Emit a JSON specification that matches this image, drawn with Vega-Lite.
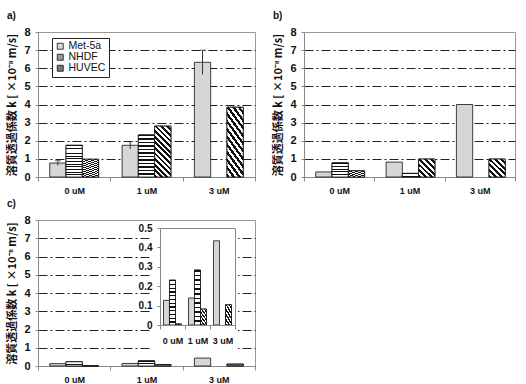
{
  "$schema": "https://vega.github.io/schema/vega-lite/v6.json",
  "padding": {"left": 6, "top": 10, "right": 0, "bottom": 0},
  "background": "white",
  "config": {
    "font": "Liberation Sans",
    "view": {"stroke": "#999", "strokeWidth": 1},
    "axis": {"domainColor": "#888", "tickColor": "#888", "labelColor": "#111", "titleColor": "#111", "gridColor": "#222", "gridDash": [9, 3, 2, 3], "gridWidth": 1},
    "axisX": {"labelFontSize": 9, "labelFontWeight": "bold", "labelAngle": 0, "tickBand": "extent", "tickSize": 4, "labelPadding": 5, "grid": false},
    "axisY": {"labelFontSize": 11, "labelFontWeight": "bold", "tickSize": 3, "labelPadding": 5, "titleFont": "Noto Sans CJK JP", "titleFontSize": 11, "titleFontWeight": "bold", "titlePadding": 6},
    "title": {"fontSize": 10, "fontWeight": "bold", "anchor": "start", "frame": "bounds", "offset": 5, "color": "#111"},
    "legend": {"strokeColor": "#222", "fillColor": "white", "padding": 3, "symbolType": "square", "symbolSize": 36, "symbolStrokeColor": "#111", "symbolStrokeWidth": 0.8, "symbolOpacity": 1, "labelFontSize": 10.5, "labelFont": "Liberation Sans", "labelColor": "#111", "rowPadding": 0, "labelOffset": 3}
  },
  "datasets": {
    "a": [
      {"conc": "0 uM", "cell": "Met-5a", "k": 0.77, "lo": 0.64, "hi": 0.9},
      {"conc": "0 uM", "cell": "NHDF", "k": 1.75},
      {"conc": "0 uM", "cell": "HUVEC", "k": 0.98},
      {"conc": "1 uM", "cell": "Met-5a", "k": 1.75, "lo": 1.55, "hi": 1.95},
      {"conc": "1 uM", "cell": "NHDF", "k": 2.32},
      {"conc": "1 uM", "cell": "HUVEC", "k": 2.81},
      {"conc": "3 uM", "cell": "Met-5a", "k": 6.33, "lo": 5.66, "hi": 7.0},
      {"conc": "3 uM", "cell": "HUVEC", "k": 3.85}
    ],
    "b": [
      {"conc": "0 uM", "cell": "Met-5a", "k": 0.28},
      {"conc": "0 uM", "cell": "NHDF", "k": 0.78},
      {"conc": "0 uM", "cell": "HUVEC", "k": 0.34},
      {"conc": "1 uM", "cell": "Met-5a", "k": 0.82},
      {"conc": "1 uM", "cell": "NHDF", "k": 0.2},
      {"conc": "1 uM", "cell": "HUVEC", "k": 0.99},
      {"conc": "3 uM", "cell": "Met-5a", "k": 4.0},
      {"conc": "3 uM", "cell": "HUVEC", "k": 0.99}
    ],
    "c": [
      {"conc": "0 uM", "cell": "Met-5a", "k": 0.127},
      {"conc": "0 uM", "cell": "NHDF", "k": 0.231},
      {"conc": "0 uM", "cell": "HUVEC", "k": 0.005},
      {"conc": "1 uM", "cell": "Met-5a", "k": 0.139},
      {"conc": "1 uM", "cell": "NHDF", "k": 0.283},
      {"conc": "1 uM", "cell": "HUVEC", "k": 0.082},
      {"conc": "3 uM", "cell": "Met-5a", "k": 0.434},
      {"conc": "3 uM", "cell": "HUVEC", "k": 0.104}
    ]
  },
  "vconcat": [
    {
      "hconcat": [
        {
          "title": "a)",
          "width": 217,
          "height": 145,
          "data": {"name": "a"},
          "encoding": {
            "x": {"field": "conc", "type": "nominal", "scale": {"domain": ["0 uM", "1 uM", "3 uM"], "paddingInner": 0, "paddingOuter": 0}, "axis": {"title": null}},
            "xOffset": {"field": "cell", "type": "nominal", "scale": {"domain": ["Met-5a", "NHDF", "HUVEC"], "paddingInner": 0, "paddingOuter": 0.72}},
            "y": {"field": "k", "type": "quantitative", "title": "溶質透過係数 k [ ×10⁻⁸ m/s]", "scale": {"domain": [0, 8], "nice": false}, "axis": {"values": [0, 1, 2, 3, 4, 5, 6, 7, 8], "gridOpacity": {"condition": {"test": "datum.value == 0 || datum.value == 8", "value": 0}, "value": 1}}}
          },
          "layer": [
            {
              "mark": {"type": "bar", "stroke": "#111", "strokeWidth": 0.8},
              "encoding": {
                "fill": {"field": "cell", "type": "nominal", "scale": {"domain": ["Met-5a", "NHDF", "HUVEC"], "range": ["#d6d6d6", "#9a9a9a", "#777777"]}, "legend": {"orient": "none", "legendX": 14, "legendY": 6, "title": null}}
              }
            },
            {
              "transform": [{"filter": "datum.cell === 'NHDF'"}],
              "mark": {"type": "bar", "stroke": "#111", "strokeWidth": 0.8, "fill": {"gradient": "linear", "x1": 0, "y1": 0, "x2": 0, "y2": 1, "stops": [
                {"offset": 0, "color": "#111"}, {"offset": 0.029, "color": "#111"}, {"offset": 0.029, "color": "#fff"}, {"offset": 0.0833, "color": "#fff"},
                {"offset": 0.0833, "color": "#111"}, {"offset": 0.1125, "color": "#111"}, {"offset": 0.1125, "color": "#fff"}, {"offset": 0.1667, "color": "#fff"},
                {"offset": 0.1667, "color": "#111"}, {"offset": 0.1958, "color": "#111"}, {"offset": 0.1958, "color": "#fff"}, {"offset": 0.25, "color": "#fff"},
                {"offset": 0.25, "color": "#111"}, {"offset": 0.2792, "color": "#111"}, {"offset": 0.2792, "color": "#fff"}, {"offset": 0.3333, "color": "#fff"},
                {"offset": 0.3333, "color": "#111"}, {"offset": 0.3625, "color": "#111"}, {"offset": 0.3625, "color": "#fff"}, {"offset": 0.4167, "color": "#fff"},
                {"offset": 0.4167, "color": "#111"}, {"offset": 0.4458, "color": "#111"}, {"offset": 0.4458, "color": "#fff"}, {"offset": 0.5, "color": "#fff"},
                {"offset": 0.5, "color": "#111"}, {"offset": 0.5292, "color": "#111"}, {"offset": 0.5292, "color": "#fff"}, {"offset": 0.5833, "color": "#fff"},
                {"offset": 0.5833, "color": "#111"}, {"offset": 0.6125, "color": "#111"}, {"offset": 0.6125, "color": "#fff"}, {"offset": 0.6667, "color": "#fff"},
                {"offset": 0.6667, "color": "#111"}, {"offset": 0.6958, "color": "#111"}, {"offset": 0.6958, "color": "#fff"}, {"offset": 0.75, "color": "#fff"},
                {"offset": 0.75, "color": "#111"}, {"offset": 0.7792, "color": "#111"}, {"offset": 0.7792, "color": "#fff"}, {"offset": 0.8333, "color": "#fff"},
                {"offset": 0.8333, "color": "#111"}, {"offset": 0.8625, "color": "#111"}, {"offset": 0.8625, "color": "#fff"}, {"offset": 0.9167, "color": "#fff"},
                {"offset": 0.9167, "color": "#111"}, {"offset": 0.9458, "color": "#111"}, {"offset": 0.9458, "color": "#fff"}, {"offset": 1, "color": "#fff"}
              ]}}
            },
            {
              "transform": [{"filter": "datum.cell === 'HUVEC'"}],
              "mark": {"type": "bar", "stroke": "#111", "strokeWidth": 0.8, "fill": {"gradient": "linear", "x1": 0, "y1": 1, "x2": 0.383, "y2": -0.197, "stops": [
                {"offset": 0, "color": "#111"}, {"offset": 0.0417, "color": "#111"}, {"offset": 0.0417, "color": "#fff"}, {"offset": 0.0833, "color": "#fff"},
                {"offset": 0.0833, "color": "#111"}, {"offset": 0.125, "color": "#111"}, {"offset": 0.125, "color": "#fff"}, {"offset": 0.1667, "color": "#fff"},
                {"offset": 0.1667, "color": "#111"}, {"offset": 0.2083, "color": "#111"}, {"offset": 0.2083, "color": "#fff"}, {"offset": 0.25, "color": "#fff"},
                {"offset": 0.25, "color": "#111"}, {"offset": 0.2917, "color": "#111"}, {"offset": 0.2917, "color": "#fff"}, {"offset": 0.3333, "color": "#fff"},
                {"offset": 0.3333, "color": "#111"}, {"offset": 0.375, "color": "#111"}, {"offset": 0.375, "color": "#fff"}, {"offset": 0.4167, "color": "#fff"},
                {"offset": 0.4167, "color": "#111"}, {"offset": 0.4583, "color": "#111"}, {"offset": 0.4583, "color": "#fff"}, {"offset": 0.5, "color": "#fff"},
                {"offset": 0.5, "color": "#111"}, {"offset": 0.5417, "color": "#111"}, {"offset": 0.5417, "color": "#fff"}, {"offset": 0.5833, "color": "#fff"},
                {"offset": 0.5833, "color": "#111"}, {"offset": 0.625, "color": "#111"}, {"offset": 0.625, "color": "#fff"}, {"offset": 0.6667, "color": "#fff"},
                {"offset": 0.6667, "color": "#111"}, {"offset": 0.7083, "color": "#111"}, {"offset": 0.7083, "color": "#fff"}, {"offset": 0.75, "color": "#fff"},
                {"offset": 0.75, "color": "#111"}, {"offset": 0.7917, "color": "#111"}, {"offset": 0.7917, "color": "#fff"}, {"offset": 0.8333, "color": "#fff"},
                {"offset": 0.8333, "color": "#111"}, {"offset": 0.875, "color": "#111"}, {"offset": 0.875, "color": "#fff"}, {"offset": 0.9167, "color": "#fff"},
                {"offset": 0.9167, "color": "#111"}, {"offset": 0.9583, "color": "#111"}, {"offset": 0.9583, "color": "#fff"}, {"offset": 1, "color": "#fff"}
              ]}}
            },
            {
              "transform": [{"filter": "isValid(datum.hi)"}],
              "mark": {"type": "rule", "color": "#333", "strokeWidth": 1},
              "encoding": {
                "y": {"field": "lo", "type": "quantitative", "title": "溶質透過係数 k [ ×10⁻⁸ m/s]", "scale": {"domain": [0, 8], "nice": false}, "axis": {"values": [0, 1, 2, 3, 4, 5, 6, 7, 8], "gridOpacity": {"condition": {"test": "datum.value == 0 || datum.value == 8", "value": 0}, "value": 1}}},
                "y2": {"field": "hi"}
              }
            },
            {
              "transform": [{"filter": "isValid(datum.hi)"}],
              "mark": {"type": "tick", "orient": "horizontal", "size": 6, "thickness": 1, "color": "#333"},
              "encoding": {
                "y": {"field": "hi", "type": "quantitative", "title": "溶質透過係数 k [ ×10⁻⁸ m/s]", "scale": {"domain": [0, 8], "nice": false}, "axis": {"values": [0, 1, 2, 3, 4, 5, 6, 7, 8], "gridOpacity": {"condition": {"test": "datum.value == 0 || datum.value == 8", "value": 0}, "value": 1}}}
              }
            }
          ]
        },
        {
          "title": "b)",
          "width": 211,
          "height": 145,
          "data": {"name": "b"},
          "encoding": {
            "x": {"field": "conc", "type": "nominal", "scale": {"domain": ["0 uM", "1 uM", "3 uM"], "paddingInner": 0, "paddingOuter": 0}, "axis": {"title": null}},
            "xOffset": {"field": "cell", "type": "nominal", "scale": {"domain": ["Met-5a", "NHDF", "HUVEC"], "paddingInner": 0, "paddingOuter": 0.72}},
            "y": {"field": "k", "type": "quantitative", "title": "溶質透過係数 k [ ×10⁻⁸ m/s]", "scale": {"domain": [0, 8], "nice": false}, "axis": {"values": [0, 1, 2, 3, 4, 5, 6, 7, 8], "gridOpacity": {"condition": {"test": "datum.value == 0 || datum.value == 8", "value": 0}, "value": 1}}}
          },
          "layer": [
            {
              "mark": {"type": "bar", "stroke": "#111", "strokeWidth": 0.8},
              "encoding": {
                "fill": {"field": "cell", "type": "nominal", "scale": {"domain": ["Met-5a", "NHDF", "HUVEC"], "range": ["#d6d6d6", "#9a9a9a", "#777777"]}, "legend": {"orient": "none", "legendX": 14, "legendY": 6, "title": null}}
              }
            },
            {
              "transform": [{"filter": "datum.cell === 'NHDF'"}],
              "mark": {"type": "bar", "stroke": "#111", "strokeWidth": 0.8, "fill": {"gradient": "linear", "x1": 0, "y1": 0, "x2": 0, "y2": 1, "stops": [
                {"offset": 0, "color": "#111"}, {"offset": 0.07, "color": "#111"}, {"offset": 0.07, "color": "#fff"}, {"offset": 0.2, "color": "#fff"},
                {"offset": 0.2, "color": "#111"}, {"offset": 0.27, "color": "#111"}, {"offset": 0.27, "color": "#fff"}, {"offset": 0.4, "color": "#fff"},
                {"offset": 0.4, "color": "#111"}, {"offset": 0.47, "color": "#111"}, {"offset": 0.47, "color": "#fff"}, {"offset": 0.6, "color": "#fff"},
                {"offset": 0.6, "color": "#111"}, {"offset": 0.67, "color": "#111"}, {"offset": 0.67, "color": "#fff"}, {"offset": 0.8, "color": "#fff"},
                {"offset": 0.8, "color": "#111"}, {"offset": 0.87, "color": "#111"}, {"offset": 0.87, "color": "#fff"}, {"offset": 1, "color": "#fff"}
              ]}}
            },
            {
              "transform": [{"filter": "datum.cell === 'HUVEC'"}],
              "mark": {"type": "bar", "stroke": "#111", "strokeWidth": 0.8, "fill": {"gradient": "linear", "x1": 0, "y1": 1, "x2": 0.94, "y2": -0.056, "stops": [
                {"offset": 0, "color": "#111"}, {"offset": 0.0833, "color": "#111"}, {"offset": 0.0833, "color": "#fff"}, {"offset": 0.1667, "color": "#fff"},
                {"offset": 0.1667, "color": "#111"}, {"offset": 0.25, "color": "#111"}, {"offset": 0.25, "color": "#fff"}, {"offset": 0.3333, "color": "#fff"},
                {"offset": 0.3333, "color": "#111"}, {"offset": 0.4167, "color": "#111"}, {"offset": 0.4167, "color": "#fff"}, {"offset": 0.5, "color": "#fff"},
                {"offset": 0.5, "color": "#111"}, {"offset": 0.5833, "color": "#111"}, {"offset": 0.5833, "color": "#fff"}, {"offset": 0.6667, "color": "#fff"},
                {"offset": 0.6667, "color": "#111"}, {"offset": 0.75, "color": "#111"}, {"offset": 0.75, "color": "#fff"}, {"offset": 0.8333, "color": "#fff"},
                {"offset": 0.8333, "color": "#111"}, {"offset": 0.9167, "color": "#111"}, {"offset": 0.9167, "color": "#fff"}, {"offset": 1, "color": "#fff"}
              ]}}
            }
          ]
        }
      ],
      "spacing": 16
    },
    {
      "title": "c)",
      "width": 217,
      "height": 146,
      "data": {"name": "c"},
      "layer": [
        {
          "encoding": {
            "x": {"field": "conc", "type": "nominal", "scale": {"domain": ["0 uM", "1 uM", "3 uM"], "paddingInner": 0, "paddingOuter": 0}, "axis": {"title": null, "orient": "bottom"}},
            "xOffset": {"field": "cell", "type": "nominal", "scale": {"domain": ["Met-5a", "NHDF", "HUVEC"], "paddingInner": 0, "paddingOuter": 0.72}},
            "y": {"field": "k", "type": "quantitative", "title": "溶質透過係数 k [ ×10⁻⁸ m/s]", "scale": {"domain": [0, 8], "nice": false}, "axis": {"orient": "left", "values": [0, 1, 2, 3, 4, 5, 6, 7, 8], "gridOpacity": {"condition": {"test": "datum.value == 0 || datum.value == 8", "value": 0}, "value": 1}}}
          },
          "layer": [
            {
              "mark": {"type": "bar", "stroke": "#111", "strokeWidth": 0.8},
              "encoding": {
                "fill": {"field": "cell", "type": "nominal", "scale": {"domain": ["Met-5a", "NHDF", "HUVEC"], "range": ["#d6d6d6", "#9a9a9a", "#777777"]}, "legend": {"orient": "none", "legendX": 15, "legendY": 5, "title": null}}
              }
            },
            {
              "transform": [{"filter": "datum.cell === 'NHDF'"}],
              "mark": {"type": "bar", "stroke": "#111", "strokeWidth": 0.8, "fill": {"gradient": "linear", "x1": 0, "y1": 0, "x2": 0, "y2": 1, "stops": [
                {"offset": 0, "color": "#111"}, {"offset": 0.15, "color": "#111"}, {"offset": 0.15, "color": "#fff"}, {"offset": 0.5, "color": "#fff"},
                {"offset": 0.5, "color": "#111"}, {"offset": 0.65, "color": "#111"}, {"offset": 0.65, "color": "#fff"}, {"offset": 1, "color": "#fff"}
              ]}}
            },
            {
              "transform": [{"filter": "datum.cell === 'HUVEC'"}],
              "mark": {"type": "bar", "stroke": "#111", "strokeWidth": 0.8, "fill": "#777777"}
            }
          ]
        },
        {
          "data": {"values": [{}]},
          "mark": {"type": "rect", "fill": "white"},
          "encoding": {
            "x": {"datum": -0.133, "type": "quantitative", "scale": {"domain": [0, 1], "range": [122, 197], "nice": false, "zero": false}, "axis": {"orient": "top", "offset": -8, "labels": false, "ticks": false, "grid": false, "title": null, "domain": true, "zindex": 1}},
            "x2": {"datum": 1.04},
            "y": {"datum": 1.062, "type": "quantitative", "scale": {"domain": [0, 1], "range": [105, 8], "nice": false, "zero": false}, "axis": {"orient": "right", "offset": -20, "labels": false, "ticks": false, "grid": false, "title": null, "domain": true, "zindex": 1}},
            "y2": {"datum": -0.278}
          }
        },
        {
          "encoding": {
            "x": {"field": "conc", "type": "nominal", "scale": {"domain": ["0 uM", "1 uM", "3 uM"], "range": [122, 197], "paddingInner": 0, "paddingOuter": 0}, "axis": {"title": null, "orient": "bottom", "offset": -41, "zindex": 1, "labelPadding": 7}},
            "xOffset": {"field": "cell", "type": "nominal", "scale": {"domain": ["Met-5a", "NHDF", "HUVEC"], "paddingInner": 0, "paddingOuter": 0.58}},
            "y": {"field": "k", "type": "quantitative", "scale": {"domain": [0, 0.5], "range": [105, 8], "nice": false}, "axis": {"title": null, "orient": "left", "offset": -122, "zindex": 1, "labelFontSize": 10, "values": [0, 0.1, 0.2, 0.3, 0.4, 0.5], "format": "~g", "gridOpacity": {"condition": {"test": "datum.value == 0 || datum.value >= 0.5", "value": 0}, "value": 1}}}
          },
          "layer": [
            {
              "mark": {"type": "bar", "stroke": "#111", "strokeWidth": 0.8},
              "encoding": {
                "fill": {"field": "cell", "type": "nominal", "scale": {"domain": ["Met-5a", "NHDF", "HUVEC"], "range": ["#d6d6d6", "#9a9a9a", "#777777"]}}
              }
            },
            {
              "transform": [{"filter": "datum.cell === 'NHDF'"}],
              "mark": {"type": "bar", "stroke": "#111", "strokeWidth": 0.8, "fill": {"gradient": "linear", "x1": 0, "y1": 0, "x2": 0, "y2": 1, "stops": [
                {"offset": 0, "color": "#111"}, {"offset": 0.029, "color": "#111"}, {"offset": 0.029, "color": "#fff"}, {"offset": 0.0833, "color": "#fff"},
                {"offset": 0.0833, "color": "#111"}, {"offset": 0.1125, "color": "#111"}, {"offset": 0.1125, "color": "#fff"}, {"offset": 0.1667, "color": "#fff"},
                {"offset": 0.1667, "color": "#111"}, {"offset": 0.1958, "color": "#111"}, {"offset": 0.1958, "color": "#fff"}, {"offset": 0.25, "color": "#fff"},
                {"offset": 0.25, "color": "#111"}, {"offset": 0.2792, "color": "#111"}, {"offset": 0.2792, "color": "#fff"}, {"offset": 0.3333, "color": "#fff"},
                {"offset": 0.3333, "color": "#111"}, {"offset": 0.3625, "color": "#111"}, {"offset": 0.3625, "color": "#fff"}, {"offset": 0.4167, "color": "#fff"},
                {"offset": 0.4167, "color": "#111"}, {"offset": 0.4458, "color": "#111"}, {"offset": 0.4458, "color": "#fff"}, {"offset": 0.5, "color": "#fff"},
                {"offset": 0.5, "color": "#111"}, {"offset": 0.5292, "color": "#111"}, {"offset": 0.5292, "color": "#fff"}, {"offset": 0.5833, "color": "#fff"},
                {"offset": 0.5833, "color": "#111"}, {"offset": 0.6125, "color": "#111"}, {"offset": 0.6125, "color": "#fff"}, {"offset": 0.6667, "color": "#fff"},
                {"offset": 0.6667, "color": "#111"}, {"offset": 0.6958, "color": "#111"}, {"offset": 0.6958, "color": "#fff"}, {"offset": 0.75, "color": "#fff"},
                {"offset": 0.75, "color": "#111"}, {"offset": 0.7792, "color": "#111"}, {"offset": 0.7792, "color": "#fff"}, {"offset": 0.8333, "color": "#fff"},
                {"offset": 0.8333, "color": "#111"}, {"offset": 0.8625, "color": "#111"}, {"offset": 0.8625, "color": "#fff"}, {"offset": 0.9167, "color": "#fff"},
                {"offset": 0.9167, "color": "#111"}, {"offset": 0.9458, "color": "#111"}, {"offset": 0.9458, "color": "#fff"}, {"offset": 1, "color": "#fff"}
              ]}}
            },
            {
              "transform": [{"filter": "datum.cell === 'HUVEC'"}],
              "mark": {"type": "bar", "stroke": "#111", "strokeWidth": 0.8, "fill": {"gradient": "linear", "x1": 0, "y1": 1, "x2": 0.6, "y2": -0.2, "stops": [
                {"offset": 0, "color": "#111"}, {"offset": 0.0833, "color": "#111"}, {"offset": 0.0833, "color": "#fff"}, {"offset": 0.1667, "color": "#fff"},
                {"offset": 0.1667, "color": "#111"}, {"offset": 0.25, "color": "#111"}, {"offset": 0.25, "color": "#fff"}, {"offset": 0.3333, "color": "#fff"},
                {"offset": 0.3333, "color": "#111"}, {"offset": 0.4167, "color": "#111"}, {"offset": 0.4167, "color": "#fff"}, {"offset": 0.5, "color": "#fff"},
                {"offset": 0.5, "color": "#111"}, {"offset": 0.5833, "color": "#111"}, {"offset": 0.5833, "color": "#fff"}, {"offset": 0.6667, "color": "#fff"},
                {"offset": 0.6667, "color": "#111"}, {"offset": 0.75, "color": "#111"}, {"offset": 0.75, "color": "#fff"}, {"offset": 0.8333, "color": "#fff"},
                {"offset": 0.8333, "color": "#111"}, {"offset": 0.9167, "color": "#111"}, {"offset": 0.9167, "color": "#fff"}, {"offset": 1, "color": "#fff"}
              ]}}
            }
          ]
        }
      ],
      "resolve": {"scale": {"x": "independent", "y": "independent", "xOffset": "independent"}, "axis": {"x": "independent", "y": "independent"}}
    }
  ],
  "spacing": 2
}
